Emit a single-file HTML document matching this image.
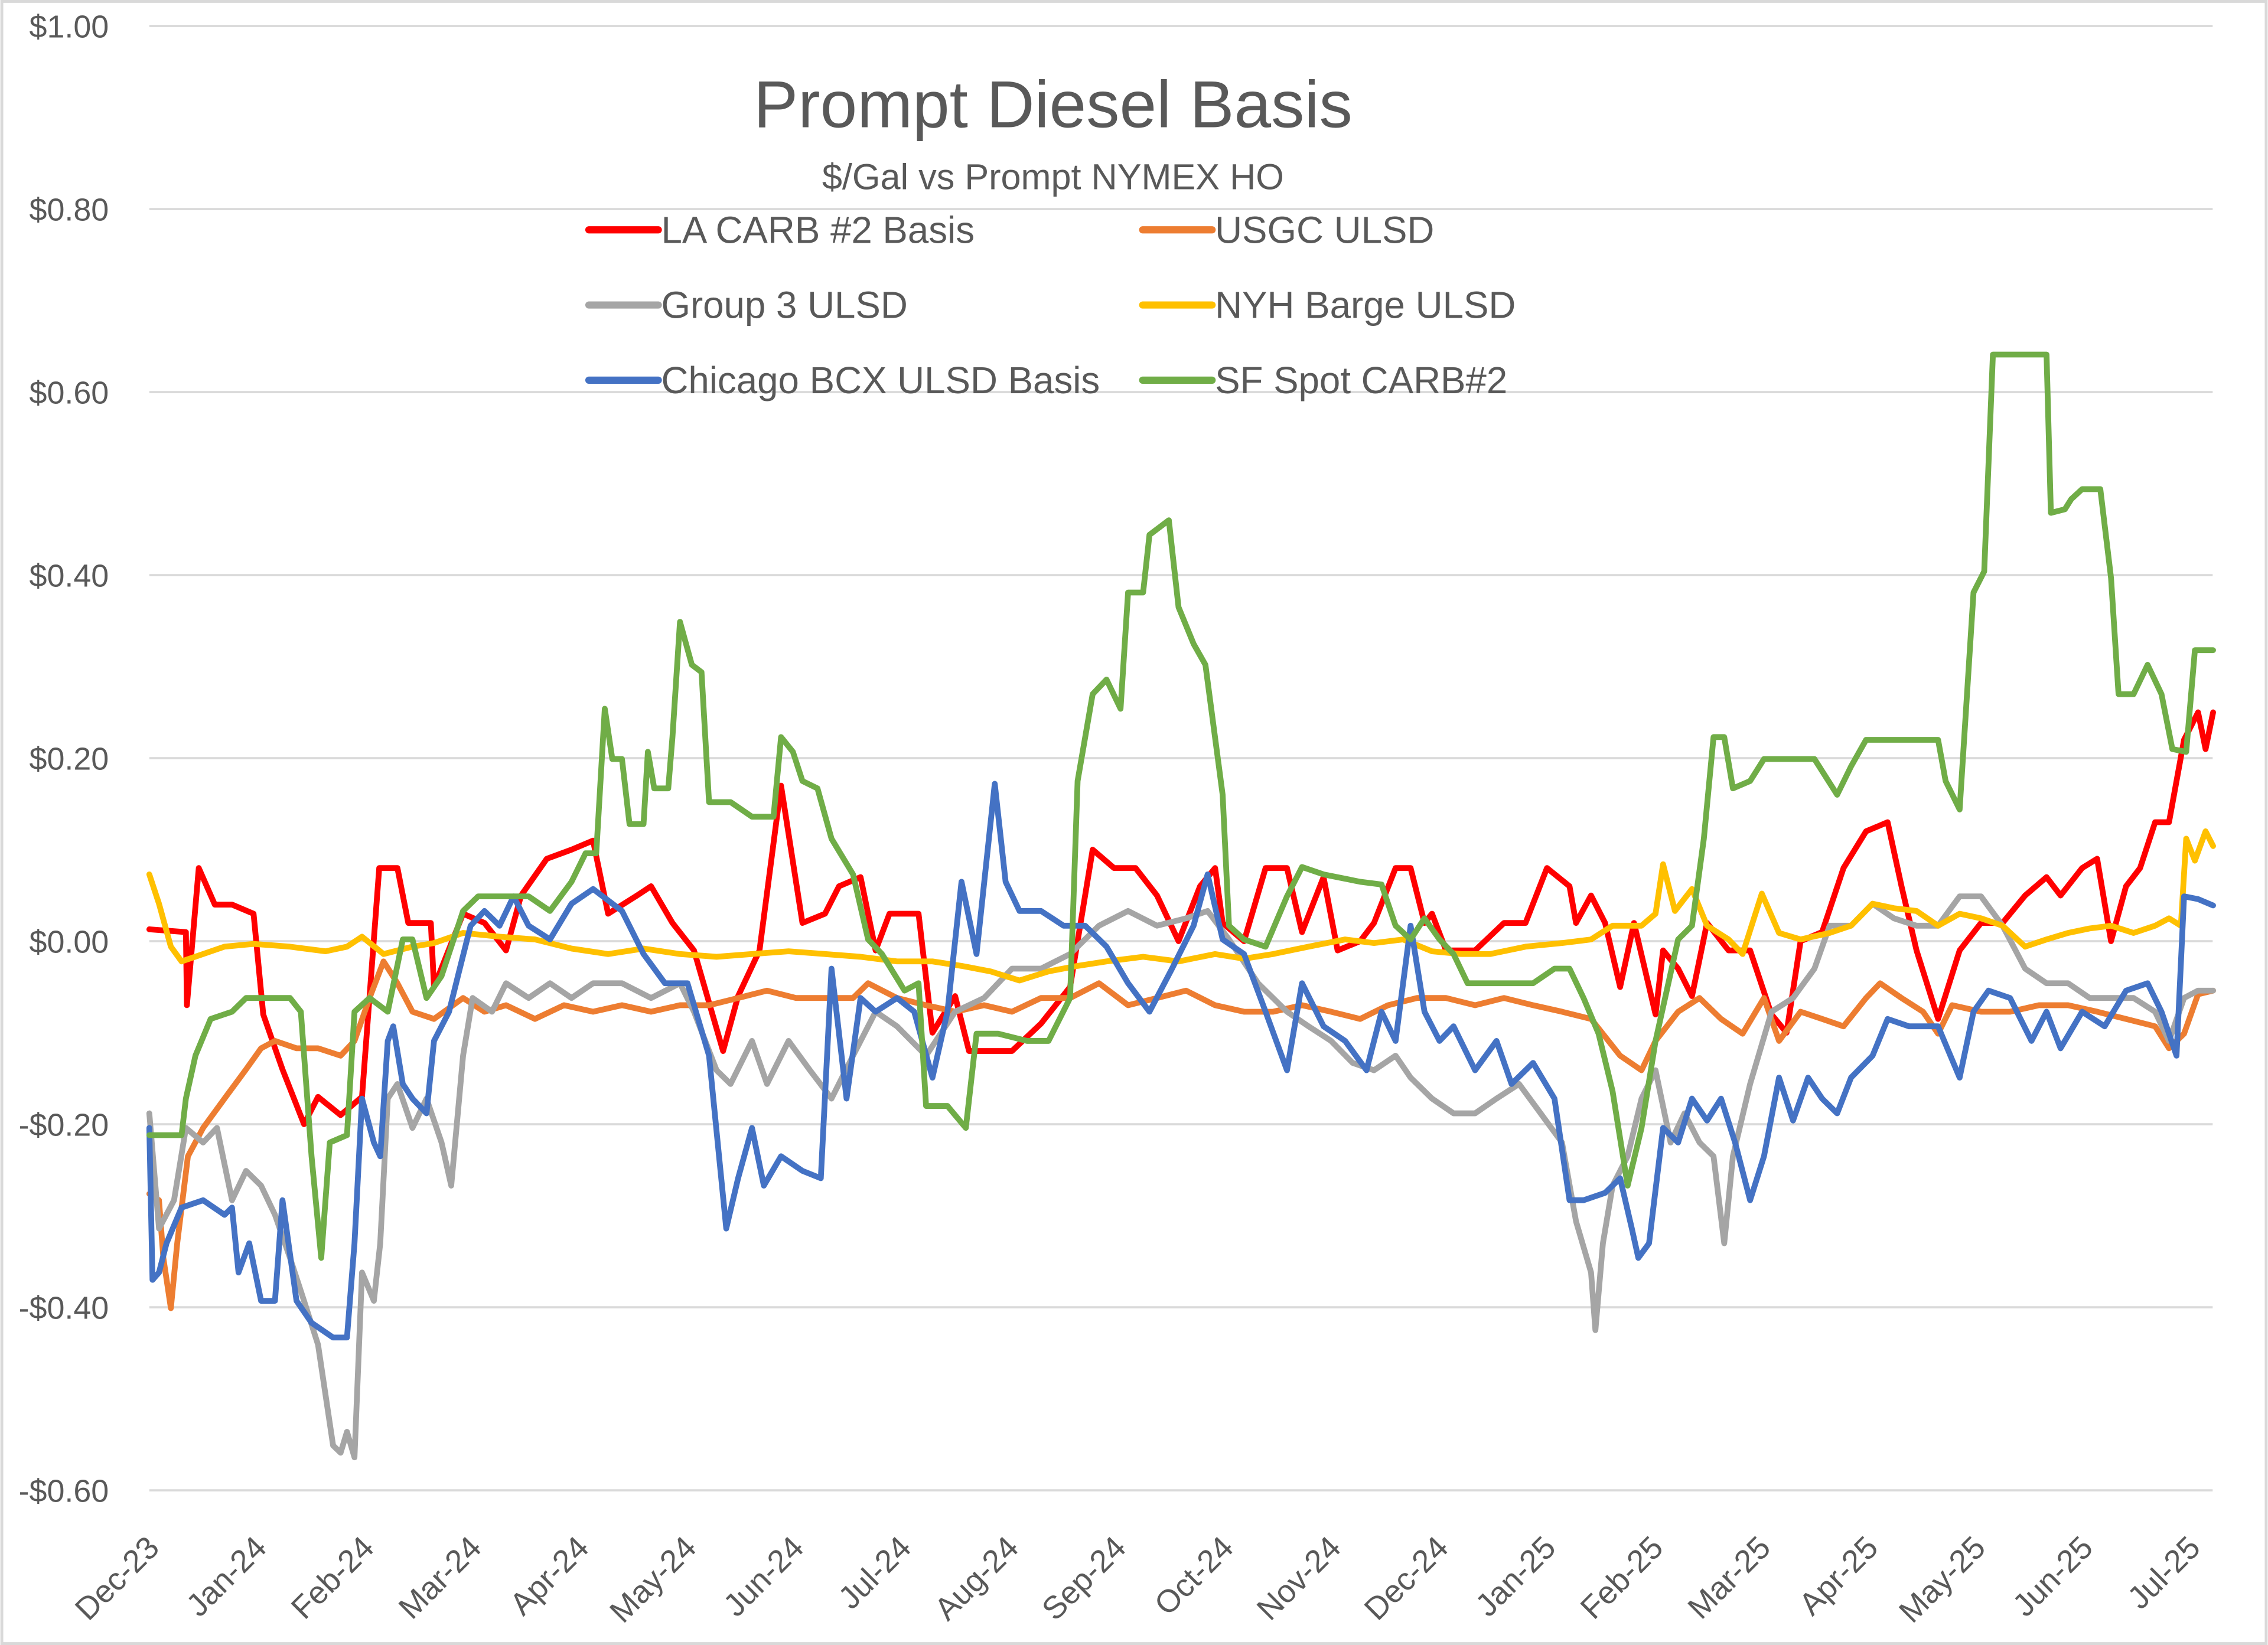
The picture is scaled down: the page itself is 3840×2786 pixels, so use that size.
<!DOCTYPE html>
<html><head><meta charset="utf-8"><title>Prompt Diesel Basis</title>
<style>html,body{margin:0;padding:0;background:#fff}svg{display:block}text{font-family:"Liberation Sans",sans-serif;fill:#595959}</style>
</head><body>
<svg id="chart" xmlns="http://www.w3.org/2000/svg" width="3840" height="2786" viewBox="0 0 1568 1138">
<rect x="1" y="1" width="1566" height="1136" fill="#fff" stroke="#d9d9d9" stroke-width="2"/>
<g id="grid"></g>
<g id="yaxis"></g>
<g id="xaxis"></g>
<g id="series"></g>
<text x="728" y="88" font-size="46" text-anchor="middle">Prompt Diesel Basis</text>
<text x="728" y="131" font-size="25" text-anchor="middle">$/Gal vs  Prompt NYMEX HO</text>
<g id="legend"></g>
</svg>
<script>
const yTicks=[1.0,0.8,0.6,0.4,0.2,0.0,-0.2,-0.4,-0.6];
const monthLabels=["Dec-23","Jan-24","Feb-24","Mar-24","Apr-24","May-24","Jun-24","Jul-24","Aug-24","Sep-24","Oct-24","Nov-24","Dec-24","Jan-25","Feb-25","Mar-25","Apr-25","May-25","Jun-25","Jul-25"];
const seriesNames=["LA CARB #2 Basis","USGC ULSD","Group 3 ULSD","NYH Barge ULSD","Chicago BCX ULSD Basis","SF Spot CARB#2"];
const seriesColors=["#ff0000","#ed7d31","#a5a5a5","#ffc000","#4472c4","#70ad47"];

const laX=[0,0.34,0.35,0.46,0.61,0.77,0.97,1.06,1.24,1.44,1.57,1.78,1.98,2.14,2.31,2.41,2.62,2.65,2.92,3.12,3.32,3.46,3.70,3.93,4.13,4.27,4.54,4.67,4.87,5.07,5.34,5.48,5.68,5.88,6.08,6.29,6.42,6.62,6.76,6.89,7.16,7.29,7.50,7.63,8.03,8.30,8.57,8.78,8.98,9.18,9.38,9.58,9.78,9.92,9.99,10.19,10.39,10.59,10.73,10.93,11.06,11.27,11.40,11.60,11.74,11.87,11.94,12.07,12.34,12.61,12.81,13.01,13.22,13.28,13.42,13.55,13.69,13.82,14.02,14.09,14.23,14.36,14.50,14.70,14.90,15.10,15.24,15.37,15.57,15.77,15.98,16.18,16.31,16.45,16.65,16.85,17.05,17.25,17.46,17.66,17.79,17.99,18.13,18.26,18.40,18.53,18.67,18.80,18.94,19.07,19.14,19.21];
const laV=[0.013,0.01,-0.07,0.08,0.04,0.04,0.03,-0.08,-0.14,-0.20,-0.17,-0.19,-0.17,0.08,0.08,0.02,0.02,-0.05,0.03,0.02,-0.01,0.05,0.09,0.10,0.11,0.03,0.05,0.06,0.02,-0.01,-0.12,-0.06,-0.01,0.17,0.02,0.03,0.06,0.07,-0.01,0.03,0.03,-0.10,-0.06,-0.12,-0.12,-0.09,-0.05,0.10,0.08,0.08,0.05,0.00,0.06,0.08,0.02,0.00,0.08,0.08,0.01,0.07,-0.01,0.00,0.02,0.08,0.08,0.02,0.03,-0.01,-0.01,0.02,0.02,0.08,0.06,0.02,0.05,0.02,-0.05,0.02,-0.08,-0.01,-0.03,-0.06,0.02,-0.01,-0.01,-0.08,-0.10,0.00,0.01,0.08,0.12,0.13,0.06,-0.01,-0.085,-0.01,0.02,0.02,0.05,0.07,0.05,0.08,0.09,0.00,0.06,0.08,0.13,0.13,0.22,0.25,0.21,0.25];

const gcX=[0,0.09,0.13,0.20,0.26,0.36,0.50,0.70,0.90,1.04,1.17,1.37,1.57,1.78,1.91,2.05,2.18,2.31,2.45,2.65,2.92,3.12,3.32,3.59,3.86,4.13,4.40,4.67,4.94,5.21,5.48,5.75,6.02,6.29,6.55,6.69,6.96,7.23,7.50,7.77,8.03,8.30,8.57,8.84,9.11,9.38,9.65,9.92,10.19,10.46,10.73,11.00,11.27,11.53,11.80,12.07,12.34,12.61,12.88,13.15,13.42,13.69,13.89,14.02,14.23,14.43,14.63,14.83,15.03,15.17,15.37,15.57,15.77,15.98,16.11,16.31,16.51,16.65,16.78,17.05,17.32,17.59,17.86,18.13,18.40,18.67,18.80,18.94,19.07,19.21];
const gcV=[-0.276,-0.283,-0.346,-0.401,-0.33,-0.235,-0.204,-0.172,-0.14,-0.117,-0.109,-0.117,-0.117,-0.125,-0.109,-0.062,-0.022,-0.046,-0.077,-0.085,-0.062,-0.077,-0.07,-0.085,-0.07,-0.077,-0.07,-0.077,-0.07,-0.07,-0.062,-0.054,-0.062,-0.062,-0.062,-0.046,-0.062,-0.07,-0.077,-0.07,-0.077,-0.062,-0.062,-0.046,-0.07,-0.062,-0.054,-0.07,-0.077,-0.077,-0.07,-0.077,-0.085,-0.07,-0.062,-0.062,-0.07,-0.062,-0.07,-0.077,-0.085,-0.125,-0.141,-0.109,-0.077,-0.062,-0.085,-0.101,-0.062,-0.109,-0.077,-0.085,-0.093,-0.062,-0.046,-0.062,-0.077,-0.101,-0.07,-0.077,-0.077,-0.07,-0.07,-0.077,-0.085,-0.093,-0.117,-0.101,-0.058,-0.054];

const g3X=[0,0.09,0.23,0.34,0.50,0.63,0.77,0.90,1.04,1.17,1.31,1.44,1.57,1.71,1.78,1.84,1.91,1.98,2.09,2.15,2.22,2.31,2.45,2.58,2.72,2.81,2.92,3.01,3.19,3.32,3.53,3.73,3.93,4.13,4.40,4.67,4.94,5.07,5.28,5.41,5.61,5.75,5.95,6.15,6.35,6.55,6.76,6.96,7.23,7.50,7.77,8.03,8.30,8.57,8.84,9.11,9.38,9.65,9.85,10.05,10.32,10.59,10.79,11.00,11.20,11.40,11.60,11.74,11.94,12.14,12.34,12.54,12.75,12.95,13.15,13.28,13.42,13.46,13.53,13.62,13.76,13.89,14.02,14.16,14.29,14.43,14.56,14.66,14.74,14.90,15.10,15.30,15.50,15.64,15.84,16.04,16.24,16.45,16.65,16.85,17.05,17.25,17.46,17.66,17.86,18.06,18.26,18.47,18.67,18.80,18.94,19.07,19.21];
const g3V=[-0.188,-0.314,-0.283,-0.204,-0.22,-0.204,-0.283,-0.251,-0.267,-0.299,-0.346,-0.393,-0.441,-0.551,-0.559,-0.536,-0.564,-0.362,-0.393,-0.33,-0.172,-0.156,-0.204,-0.172,-0.22,-0.267,-0.125,-0.062,-0.077,-0.046,-0.062,-0.046,-0.062,-0.046,-0.046,-0.062,-0.046,-0.077,-0.141,-0.156,-0.109,-0.156,-0.109,-0.141,-0.172,-0.125,-0.077,-0.093,-0.125,-0.077,-0.062,-0.03,-0.03,-0.014,0.017,0.033,0.017,0.025,0.033,0.002,-0.046,-0.077,-0.093,-0.109,-0.133,-0.141,-0.125,-0.149,-0.172,-0.188,-0.188,-0.172,-0.156,-0.188,-0.22,-0.306,-0.362,-0.425,-0.33,-0.267,-0.235,-0.172,-0.141,-0.22,-0.188,-0.22,-0.235,-0.33,-0.235,-0.156,-0.077,-0.062,-0.03,0.017,0.017,0.041,0.025,0.017,0.017,0.049,0.049,0.017,-0.03,-0.046,-0.046,-0.062,-0.062,-0.062,-0.077,-0.109,-0.062,-0.054,-0.054];

const nyX=[0,0.09,0.20,0.30,0.50,0.70,0.97,1.31,1.64,1.84,1.98,2.18,2.45,2.65,2.92,3.26,3.59,3.93,4.27,4.60,4.94,5.28,5.61,5.95,6.29,6.62,6.96,7.29,7.56,7.83,8.10,8.37,8.64,8.91,9.25,9.58,9.92,10.19,10.46,10.79,11.13,11.40,11.67,11.94,12.21,12.48,12.81,13.15,13.42,13.62,13.89,14.02,14.09,14.20,14.36,14.50,14.70,14.83,15.01,15.17,15.37,15.64,15.84,16.04,16.24,16.45,16.65,16.85,17.05,17.25,17.46,17.66,17.86,18.06,18.26,18.47,18.67,18.80,18.91,18.96,19.04,19.14,19.21];
const nyV=[0.073,0.041,-0.006,-0.022,-0.014,-0.006,-0.003,-0.006,-0.011,-0.006,0.005,-0.014,-0.006,-0.002,0.009,0.005,0.002,-0.008,-0.014,-0.008,-0.014,-0.017,-0.014,-0.011,-0.014,-0.017,-0.022,-0.022,-0.027,-0.033,-0.043,-0.033,-0.027,-0.022,-0.017,-0.022,-0.014,-0.019,-0.014,-0.006,0.002,-0.002,0.002,-0.011,-0.014,-0.014,-0.006,-0.002,0.002,0.017,0.017,0.03,0.084,0.033,0.057,0.017,0.002,-0.014,0.052,0.009,0.002,0.009,0.017,0.041,0.036,0.033,0.017,0.03,0.025,0.017,-0.006,0.002,0.009,0.014,0.017,0.009,0.017,0.025,0.017,0.112,0.088,0.12,0.104];

const chX=[0,0.03,0.09,0.16,0.30,0.50,0.70,0.77,0.83,0.93,1.04,1.17,1.24,1.37,1.51,1.71,1.84,1.91,1.98,2.09,2.15,2.22,2.27,2.36,2.45,2.58,2.65,2.79,2.89,2.99,3.12,3.26,3.39,3.53,3.73,3.93,4.13,4.40,4.60,4.80,5.01,5.21,5.37,5.48,5.61,5.72,5.88,6.08,6.25,6.35,6.49,6.62,6.76,6.96,7.12,7.29,7.43,7.56,7.70,7.87,7.97,8.10,8.30,8.51,8.71,8.91,9.11,9.31,9.52,9.72,9.85,9.99,10.19,10.39,10.59,10.73,10.93,11.13,11.33,11.47,11.60,11.74,11.87,12.01,12.14,12.34,12.54,12.68,12.88,13.08,13.22,13.35,13.55,13.69,13.80,13.86,13.96,14.09,14.23,14.36,14.50,14.63,14.76,14.90,15.03,15.17,15.30,15.44,15.57,15.71,15.84,16.04,16.18,16.38,16.65,16.85,16.98,17.12,17.32,17.52,17.66,17.79,17.99,18.20,18.40,18.60,18.73,18.87,18.94,19.07,19.21];
const chV=[-0.204,-0.37,-0.362,-0.33,-0.291,-0.283,-0.299,-0.291,-0.362,-0.33,-0.393,-0.393,-0.283,-0.393,-0.417,-0.433,-0.433,-0.33,-0.172,-0.22,-0.235,-0.109,-0.093,-0.156,-0.172,-0.188,-0.109,-0.077,-0.03,0.017,0.033,0.017,0.049,0.017,0.002,0.041,0.057,0.033,-0.014,-0.046,-0.046,-0.125,-0.314,-0.259,-0.204,-0.267,-0.235,-0.251,-0.259,-0.03,-0.172,-0.062,-0.077,-0.062,-0.077,-0.149,-0.077,0.065,-0.014,0.172,0.065,0.033,0.033,0.017,0.017,-0.006,-0.046,-0.077,-0.03,0.017,0.073,0.002,-0.014,-0.077,-0.141,-0.046,-0.093,-0.109,-0.141,-0.077,-0.109,0.017,-0.077,-0.109,-0.093,-0.141,-0.109,-0.156,-0.133,-0.172,-0.283,-0.283,-0.275,-0.259,-0.314,-0.346,-0.33,-0.204,-0.22,-0.172,-0.196,-0.172,-0.22,-0.283,-0.235,-0.149,-0.196,-0.149,-0.172,-0.188,-0.149,-0.125,-0.085,-0.093,-0.093,-0.149,-0.077,-0.054,-0.062,-0.109,-0.077,-0.117,-0.077,-0.093,-0.054,-0.046,-0.077,-0.125,0.049,0.046,0.039];

const sfX=[0,0.30,0.34,0.43,0.57,0.77,0.90,1.04,1.31,1.41,1.51,1.60,1.68,1.84,1.91,2.05,2.22,2.36,2.45,2.58,2.72,2.92,3.06,3.32,3.53,3.73,3.93,4.06,4.16,4.24,4.31,4.40,4.47,4.60,4.64,4.70,4.83,4.87,4.94,5.05,5.14,5.21,5.41,5.61,5.81,5.88,5.99,6.08,6.22,6.35,6.55,6.69,6.82,7.03,7.16,7.23,7.43,7.60,7.70,7.90,8.17,8.37,8.57,8.64,8.78,8.91,9.04,9.11,9.25,9.31,9.49,9.58,9.72,9.83,9.99,10.05,10.19,10.39,10.59,10.73,10.93,11.27,11.47,11.60,11.74,11.87,12.01,12.14,12.27,12.48,12.68,12.88,13.08,13.22,13.35,13.49,13.62,13.76,13.89,14.02,14.23,14.36,14.47,14.56,14.66,14.74,14.90,15.03,15.30,15.50,15.71,15.84,15.98,16.18,16.65,16.72,16.85,16.98,17.08,17.16,17.66,17.70,17.83,17.89,17.99,18.16,18.26,18.33,18.47,18.60,18.73,18.83,18.96,19.04,19.21];
const sfV=[-0.212,-0.212,-0.172,-0.125,-0.085,-0.077,-0.062,-0.062,-0.062,-0.077,-0.235,-0.346,-0.22,-0.212,-0.077,-0.062,-0.077,0.002,0.002,-0.062,-0.038,0.033,0.049,0.049,0.049,0.033,0.065,0.096,0.096,0.254,0.199,0.199,0.128,0.128,0.207,0.167,0.167,0.223,0.349,0.302,0.294,0.152,0.152,0.136,0.136,0.223,0.207,0.175,0.167,0.112,0.073,0.002,-0.014,-0.054,-0.046,-0.18,-0.18,-0.204,-0.101,-0.101,-0.109,-0.109,-0.062,0.175,0.27,0.286,0.254,0.381,0.381,0.444,0.46,0.365,0.325,0.302,0.16,0.017,0.002,-0.006,0.049,0.081,0.073,0.065,0.062,0.017,0.002,0.025,0.002,-0.014,-0.046,-0.046,-0.046,-0.046,-0.03,-0.03,-0.062,-0.101,-0.164,-0.267,-0.204,-0.109,0.002,0.017,0.112,0.223,0.223,0.167,0.175,0.199,0.199,0.199,0.16,0.191,0.22,0.22,0.22,0.175,0.144,0.381,0.404,0.641,0.641,0.468,0.472,0.483,0.494,0.494,0.397,0.27,0.27,0.302,0.27,0.21,0.207,0.318,0.318];

const NS="http://www.w3.org/2000/svg";
const X0=103, X1=1530, MONTH_PX=74.3;
const Y_TOP=18, Y_BOT=1031, V_TOP=1.0, V_BOT=-0.6;
function xScale(m){return X0+m*MONTH_PX;}
function yScale(v){return Y_TOP+(V_TOP-v)/(V_TOP-V_BOT)*(Y_BOT-Y_TOP);}
function mk(tag,attrs,parent){const e=document.createElementNS(NS,tag);for(const k in attrs)e.setAttribute(k,attrs[k]);parent.appendChild(e);return e;}

const grid=document.getElementById('grid'),yaxis=document.getElementById('yaxis'),xaxis=document.getElementById('xaxis');
yTicks.forEach(v=>{
  const y=yScale(v);
  const l=mk('line',{x1:X0,x2:X1,y1:y,y2:y,stroke:'#d9d9d9','stroke-width':1.5},grid);
  
  
  const t=mk('text',{x:75,y:y+8,'font-size':22,'text-anchor':'end'},yaxis);
  
  
  t.textContent=(v<0?'-$':'$')+Math.abs(v).toFixed(2);
});
monthLabels.forEach((lab,i)=>{
  const x=xScale(i)+8, y=1072;
  const t=mk('text',{x:x,y:y,'font-size':22,'text-anchor':'end',transform:'rotate(-45 '+x+' '+y+')'},xaxis);
  
  
  t.textContent=lab;
});

const series=[[laX,laV],[gcX,gcV],[g3X,g3V],[nyX,nyV],[chX,chV],[sfX,sfV]];
const slugs=["la-carb-line","usgc-ulsd-line","group3-ulsd-line","nyh-barge-line","chicago-bcx-line","sf-spot-carb-line"];
const sg=document.getElementById('series');
series.forEach((s,i)=>{
  const pts=s[0].map((m,j)=>xScale(m).toFixed(1)+','+yScale(s[1][j]).toFixed(1)).join(' ');
  const p=mk('polyline',{points:pts,fill:'none',stroke:seriesColors[i],'stroke-width':4,'stroke-linejoin':'round','stroke-linecap':'round'},sg);
  
  
});

const lg=document.getElementById('legend');
seriesNames.forEach((n,i)=>{
  const col=i%2, row=Math.floor(i/2);
  const lx=col?790:407, ly=159+row*52;
  const g=mk('g',{},lg);
  
  
  mk('line',{x1:lx,x2:lx+48,y1:ly,y2:ly,stroke:seriesColors[i],'stroke-width':5,'stroke-linecap':'round'},g);
  const t=mk('text',{x:lx+50,y:ly+9,'font-size':26},g);
  t.textContent=n;
});
</script>
</body></html>
